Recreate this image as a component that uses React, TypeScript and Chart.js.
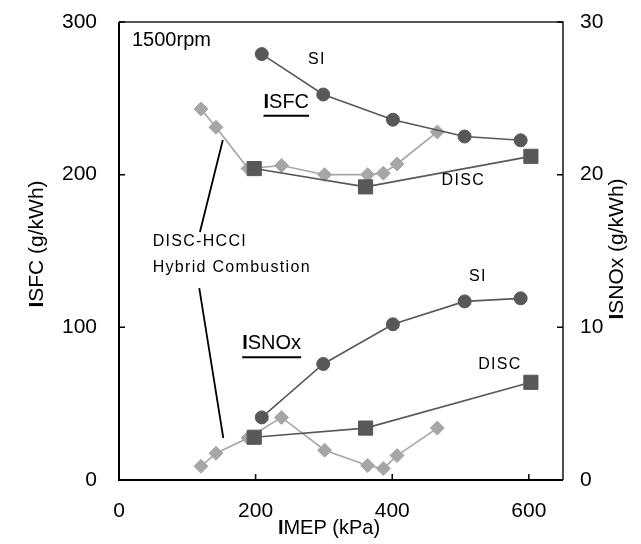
import React, { useEffect, useRef } from 'react';
import { Chart, registerables } from 'chart.js';

Chart.register(...registerables);

// ---- tick labels ----
const xTicks = [0, 200, 400, 600];
const isfcTicks = [0, 100, 200, 300];
const isnoxTicks = [0, 10, 20, 30];

// ---- SI ----
const siImep = [209, 299, 401, 506, 588];
const siIsfc = [279, 252.5, 236, 225, 222.5];
const siIsnox = [4.1, 7.6, 10.2, 11.7, 11.9];

// ---- DISC ----
const discImep = [198, 361, 603];
const discIsfc = [204, 192, 212];
const discIsnox = [2.8, 3.4, 6.4];

// ---- DISC-HCCI hybrid ----
const hcciImep = [120, 142, 189, 238, 301, 364, 387, 407, 466];
const hcciIsfc = [243, 231, 204, 206, 200, 200, 201, 207, 228];
const hcciIsnox = [0.9, 1.75, 2.75, 4.1, 1.95, 0.95, 0.75, 1.6, 3.4];

const FONT = '"Liberation Sans", Arial, sans-serif';
const DARK = '#585858';
const LIGHT = '#a6a6a6';

const pts = (xs: number[], ys: number[]) => xs.map((x, i) => ({ x, y: ys[i] }));

type Seg = { t: string; bold?: boolean };

function drawSegs(ctx: CanvasRenderingContext2D, segs: Seg[], size: number, cx: number, cy: number, rot: number) {
  ctx.save();
  ctx.translate(cx, cy);
  ctx.rotate(rot);
  ctx.textBaseline = 'middle';
  ctx.textAlign = 'left';
  let total = 0;
  const widths = segs.map((s) => {
    ctx.font = `${s.bold ? 'bold ' : ''}${size}px ${FONT}`;
    const w = ctx.measureText(s.t).width;
    total += w;
    return w;
  });
  let x = -total / 2;
  segs.forEach((s, i) => {
    ctx.font = `${s.bold ? 'bold ' : ''}${size}px ${FONT}`;
    ctx.fillText(s.t, x, 0);
    x += widths[i];
  });
  ctx.restore();
}

const decor = {
  id: 'decor',
  beforeDatasetsDraw(chart: any) {
    const ctx = chart.ctx as CanvasRenderingContext2D;
    const { left, right, top, bottom } = chart.chartArea;
    const xs = chart.scales.x;
    const ys = chart.scales.y;
    const y1 = chart.scales.y1;
    ctx.save();
    ctx.strokeStyle = '#000';
    ctx.lineWidth = 2;
    ctx.beginPath();
    ctx.moveTo(left, top);
    ctx.lineTo(left, bottom);
    ctx.lineTo(right, bottom);
    ctx.stroke();
    ctx.lineWidth = 1.6;
    ctx.strokeStyle = '#222';
    ctx.beginPath();
    ctx.moveTo(left, top);
    ctx.lineTo(right, top);
    ctx.lineTo(right, bottom);
    ctx.stroke();
    ctx.lineWidth = 1.5;
    ctx.strokeStyle = '#000';
    ctx.beginPath();
    xTicks.forEach((v) => {
      const p = xs.getPixelForValue(v);
      ctx.moveTo(p, bottom);
      ctx.lineTo(p, bottom - 6);
    });
    isfcTicks.forEach((v) => {
      const p = ys.getPixelForValue(v);
      ctx.moveTo(left, p);
      ctx.lineTo(left + 6, p);
    });
    isnoxTicks.forEach((v) => {
      const p = y1.getPixelForValue(v);
      ctx.moveTo(right, p);
      ctx.lineTo(right - 6, p);
    });
    ctx.stroke();
    ctx.restore();
  },
  afterDatasetsDraw(chart: any) {
    const ctx = chart.ctx as CanvasRenderingContext2D;
    const xs = chart.scales.x;
    const ys = chart.scales.y;
    const px = (v: number) => xs.getPixelForValue(v);
    const py = (v: number) => ys.getPixelForValue(v);
    ctx.save();
    // leader lines for the hybrid label
    ctx.strokeStyle = '#000';
    ctx.lineWidth = 1.8;
    ctx.beginPath();
    ctx.moveTo(px(152), py(222.7));
    ctx.lineTo(px(118.5), py(162.4));
    ctx.moveTo(px(117.5), py(125.7));
    ctx.lineTo(px(152.7), py(27.5));
    ctx.stroke();

    ctx.fillStyle = '#000';
    ctx.textBaseline = 'middle';

    // 1500rpm
    ctx.font = `20px ${FONT}`;
    ctx.textAlign = 'left';
    ctx.fillText('1500rpm', px(19), py(288.2));

    // small labels with spacing
    (ctx as any).letterSpacing = '1.3px';
    ctx.font = `16px ${FONT}`;
    ctx.textAlign = 'left';
    ctx.fillText('DISC-HCCI', px(49.3), py(155.9));
    ctx.fillText('Hybrid Combustion', px(49.3), py(138.9));
    ctx.textAlign = 'center';
    ctx.fillText('SI', px(289.8), py(275.1));
    ctx.fillText('DISC', px(504), py(195.8));
    ctx.fillText('SI', px(525.4), py(133));
    ctx.fillText('DISC', px(557.6), py(75.3));
    (ctx as any).letterSpacing = '0px';

    // underlined group labels
    const groupLabel = (txt: string, cxv: number, cyv: number, ulv: number) => {
      const cx = px(cxv);
      const cy = py(cyv);
      drawSegs(ctx, [{ t: txt[0], bold: true }, { t: txt.slice(1) }], 20, cx, cy, 0);
      ctx.font = `20px ${FONT}`;
      const w = ctx.measureText(txt).width;
      ctx.lineWidth = 2;
      ctx.beginPath();
      ctx.moveTo(cx - w / 2, py(ulv));
      ctx.lineTo(cx + w / 2, py(ulv));
      ctx.stroke();
    };
    groupLabel('ISFC', 244.9, 247.3, 238.6);
    groupLabel('ISNOx', 223.5, 89.1, 80.4);

    // axis titles
    drawSegs(ctx, [{ t: 'I', bold: true }, { t: 'MEP (kPa)' }], 20, 329, 528, 0);
    drawSegs(ctx, [{ t: 'I', bold: true }, { t: 'SFC (g/kWh)' }], 21, 37, 244, -Math.PI / 2);
    drawSegs(ctx, [{ t: 'I', bold: true }, { t: 'SNOx (g/kWh)' }], 21, 617, 249, -Math.PI / 2);
    ctx.restore();
  },
};

const zeroPad = (s: any) => {
  s.paddingTop = 0;
  s.paddingBottom = 0;
  s.paddingLeft = 0;
  s.paddingRight = 0;
};

export default function App() {
  const ref = useRef<HTMLCanvasElement | null>(null);
  useEffect(() => {
    if (!ref.current) return;
    const mk = (label: string, xs: number[], ys: number[], axis: string, color: string, style: string, r: number) => ({
      label,
      data: pts(xs, ys),
      yAxisID: axis,
      borderColor: color,
      backgroundColor: color,
      pointBackgroundColor: color,
      pointBorderColor: color,
      pointStyle: style,
      pointRadius: r,
      pointBorderWidth: 1,
      borderWidth: 1.6,
      tension: 0,
      fill: false,
    });
    const tickFont = { family: FONT, size: 21 };
    const chart = new Chart(ref.current, {
      type: 'line',
      data: {
        datasets: [
          mk('SI ISFC', siImep, siIsfc, 'y', DARK, 'circle', 6.5),
          mk('SI ISNOx', siImep, siIsnox, 'y1', DARK, 'circle', 6.5),
          mk('DISC ISFC', discImep, discIsfc, 'y', DARK, 'rect', 10),
          mk('DISC ISNOx', discImep, discIsnox, 'y1', DARK, 'rect', 10),
          mk('DISC-HCCI ISFC', hcciImep, hcciIsfc, 'y', LIGHT, 'rectRot', 7),
          mk('DISC-HCCI ISNOx', hcciImep, hcciIsnox, 'y1', LIGHT, 'rectRot', 7),
        ] as any,
      },
      options: {
        responsive: false,
        animation: false,
        devicePixelRatio: 1,
        layout: { padding: { top: 22, left: 0, right: 0, bottom: 0 } },
        plugins: { legend: { display: false }, tooltip: { enabled: false } },
        scales: {
          x: {
            type: 'linear',
            position: 'bottom',
            min: 0,
            max: 650,
            grid: { display: false, drawTicks: false },
            border: { display: false },
            afterBuildTicks: (s: any) => {
              s.ticks = xTicks.map((v) => ({ value: v }));
            },
            afterFit: (s: any) => {
              s.height = 64;
              zeroPad(s);
            },
            ticks: { font: tickFont, color: '#000', padding: 19, maxRotation: 0, autoSkip: false },
          },
          y: {
            type: 'linear',
            position: 'left',
            min: 0,
            max: 300,
            grid: { display: false, drawTicks: false },
            border: { display: false },
            afterBuildTicks: (s: any) => {
              s.ticks = isfcTicks.map((v) => ({ value: v }));
            },
            afterFit: (s: any) => {
              s.width = 119;
              zeroPad(s);
            },
            ticks: { font: tickFont, color: '#000', padding: 22 },
          },
          y1: {
            type: 'linear',
            position: 'right',
            min: 0,
            max: 30,
            grid: { display: false, drawTicks: false },
            border: { display: false },
            afterBuildTicks: (s: any) => {
              s.ticks = isnoxTicks.map((v) => ({ value: v }));
            },
            afterFit: (s: any) => {
              s.width = 78;
              zeroPad(s);
            },
            ticks: { font: tickFont, color: '#000', padding: 17 },
          },
        },
      } as any,
      plugins: [decor],
    });
    return () => chart.destroy();
  }, []);
  return (
    <div style={{ position: 'absolute', left: 0, top: 0, width: 641, height: 544, background: '#fff' }}>
      <canvas ref={ref} width={641} height={544} />
    </div>
  );
}
